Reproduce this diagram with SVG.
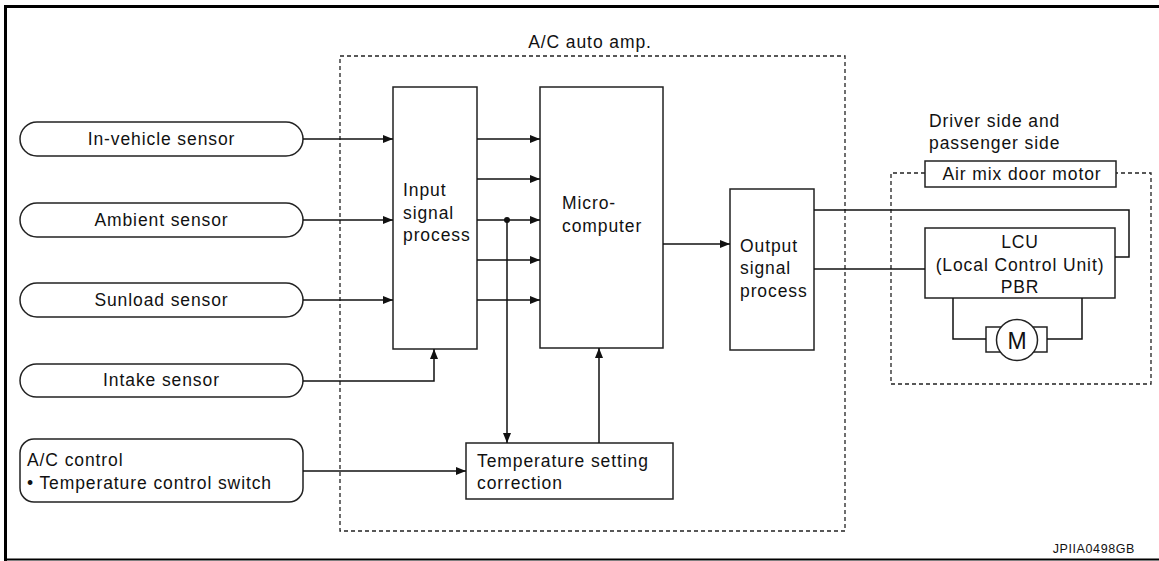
<svg xmlns="http://www.w3.org/2000/svg" width="1159" height="561" viewBox="0 0 1159 561">
<defs>
<marker id="ah" viewBox="0 0 10 8" refX="10" refY="4" markerWidth="10" markerHeight="8" markerUnits="userSpaceOnUse" orient="auto">
<path d="M0,0 L10,4 L0,8 Z" fill="#111"/>
</marker>
<style>
text{font-family:"Liberation Sans",Arial,sans-serif;font-size:17.5px;letter-spacing:0.9px;fill:#111}
.box{fill:#fff;stroke:#222;stroke-width:1.5}
.dash{fill:none;stroke:#222;stroke-width:1.3;stroke-dasharray:4 3}
.ln{fill:none;stroke:#111;stroke-width:1.5}
.c{text-anchor:middle}
</style>
</defs>
<rect width="1159" height="561" fill="#fff"/>
<g id="frame">
<path d="M5.5,561 V6.5 H1159" fill="none" stroke="#000" stroke-width="3"/>
<line x1="5" y1="559.5" x2="1159" y2="559.5" stroke="#000" stroke-width="2"/>
<text x="1135" y="553" style="font-size:12.5px;letter-spacing:0.6px" text-anchor="end">JPIIA0498GB</text>
</g>
<g id="acamp">
<rect class="dash" x="340" y="56" width="505" height="475"/>
<text class="c" x="590" y="48">A/C auto amp.</text>
</g>
<g id="drvgroup">
<path class="dash" d="M925,173 H891 V384 H1151 V173 H1116"/>
<text x="929" y="127">Driver side and</text>
<text x="929" y="149">passenger side</text>
</g>
<g id="in-vehicle">
<rect class="box" x="20" y="122" width="283" height="34" rx="17"/>
<text class="c" x="161.5" y="145">In-vehicle sensor</text>
</g>
<g id="ambient">
<rect class="box" x="20" y="203" width="283" height="34" rx="17"/>
<text class="c" x="161.5" y="226">Ambient sensor</text>
</g>
<g id="sunload">
<rect class="box" x="20" y="283" width="283" height="34" rx="17"/>
<text class="c" x="161.5" y="306">Sunload sensor</text>
</g>
<g id="intake">
<rect class="box" x="20" y="364" width="283" height="33" rx="16.5"/>
<text class="c" x="161.5" y="386">Intake sensor</text>
</g>
<g id="accontrol">
<rect class="box" x="20" y="439" width="283" height="63" rx="14"/>
<text x="27" y="466">A/C control</text>
<text x="27" y="489">• Temperature control switch</text>
</g>
<g id="input">
<rect class="box" x="393" y="87" width="84" height="262"/>
<text x="403" y="196">Input</text>
<text x="403" y="219">signal</text>
<text x="403" y="241">process</text>
</g>
<g id="micro">
<rect class="box" x="540" y="87" width="123" height="261"/>
<text x="562" y="209">Micro-</text>
<text x="562" y="232">computer</text>
</g>
<g id="output">
<rect class="box" x="730" y="189" width="84" height="161"/>
<text x="740" y="252">Output</text>
<text x="740" y="274">signal</text>
<text x="740" y="297">process</text>
</g>
<g id="tempcorr">
<rect class="box" x="466" y="443" width="207" height="56"/>
<text x="477" y="467">Temperature setting</text>
<text x="477" y="489">correction</text>
</g>
<g id="airmix">
<rect class="box" x="925" y="161" width="191" height="26"/>
<text class="c" x="1022" y="180">Air mix door motor</text>
</g>
<g id="lcu">
<rect class="box" x="925" y="228" width="190" height="70"/>
<text class="c" x="1020" y="248">LCU</text>
<text class="c" x="1020" y="271">(Local Control Unit)</text>
<text class="c" x="1020" y="293">PBR</text>
</g>
<g id="motor">
<rect class="box" x="986" y="327" width="61" height="25"/>
<circle cx="1017" cy="340" r="20.5" fill="#fff" stroke="#222" stroke-width="1.5"/>
<text class="c" x="1017" y="348.5" style="font-size:23px;letter-spacing:0">M</text>
</g>
<g id="connectors">
<line class="ln" x1="303" y1="139" x2="393" y2="139" marker-end="url(#ah)"/>
<line class="ln" x1="303" y1="220" x2="393" y2="220" marker-end="url(#ah)"/>
<line class="ln" x1="303" y1="300" x2="393" y2="300" marker-end="url(#ah)"/>
<path class="ln" d="M303,381 H434 V349" marker-end="url(#ah)"/>
<line class="ln" x1="303" y1="471" x2="466" y2="471" marker-end="url(#ah)"/>
<line class="ln" x1="477" y1="139" x2="540" y2="139" marker-end="url(#ah)"/>
<line class="ln" x1="477" y1="179" x2="540" y2="179" marker-end="url(#ah)"/>
<line class="ln" x1="477" y1="220" x2="540" y2="220" marker-end="url(#ah)"/>
<line class="ln" x1="477" y1="260" x2="540" y2="260" marker-end="url(#ah)"/>
<line class="ln" x1="477" y1="300" x2="540" y2="300" marker-end="url(#ah)"/>
<circle cx="507" cy="220" r="3" fill="#111"/>
<line class="ln" x1="507" y1="220" x2="507" y2="443" marker-end="url(#ah)"/>
<line class="ln" x1="599" y1="443" x2="599" y2="348" marker-end="url(#ah)"/>
<line class="ln" x1="663" y1="244" x2="730" y2="244" marker-end="url(#ah)"/>
<path class="ln" d="M814,210 H1129 V257 H1115"/>
<line class="ln" x1="814" y1="269" x2="925" y2="269"/>
<path class="ln" d="M953,298 V339 H986"/>
<path class="ln" d="M1047,339 H1082 V298"/>
</g>
</svg>
